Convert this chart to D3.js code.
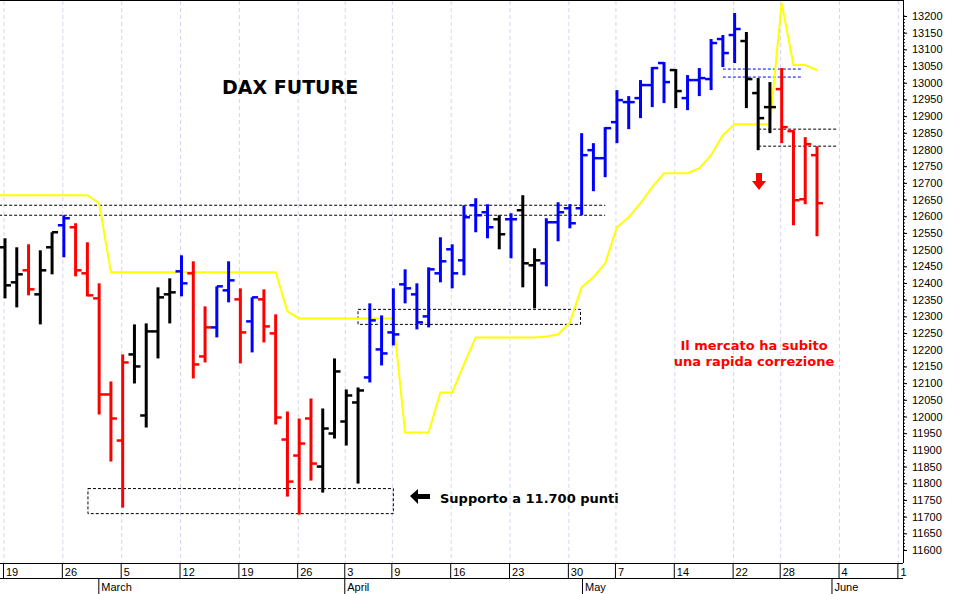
<!DOCTYPE html>
<html><head><meta charset="utf-8">
<script src="https://cdn.jsdelivr.net/npm/d3@7"></script>
<style>body{margin:0;background:#fff}svg{display:block}</style>
</head><body>
<svg id="c" width="954" height="594"></svg>
<script>
// OHLC bars: [open, high, low, close, colour code]
const opens  = [12507,12402,12438,12366,12507,12573,12567,12429,12354,12066,11928,12186,12003,12255,12366,12435,12429,12180,12267,12378,12351,12285,12351,12249,11931,11883,11994,11850,11949,11985,12042,12117,12201,12252,12396,12366,12300,12429,12501,12468,12633,12612,12591,12591,12618,12453,12459,12582,12624,12624,12798,12774,12882,12942,12954,12993,13059,13038,12954,13008,13011,13131,13143,13125,12969,12927,12981,12855,12651,12783];
const highs  = [12534,12507,12516,12498,12552,12603,12579,12522,12399,12105,12186,12276,12279,12387,12414,12483,12465,12330,12390,12465,12384,12357,12381,12306,12015,11994,12054,12024,12174,12081,12087,12339,12303,12384,12441,12399,12447,12537,12516,12633,12654,12636,12603,12609,12663,12504,12594,12642,12636,12849,12819,12867,12978,12960,13008,13047,13062,13041,13023,13044,13131,13143,13209,13152,13014,13002,13044,12858,12837,12810];
const lows   = [12354,12327,12363,12276,12426,12477,12420,12360,12006,11865,11727,12099,11967,12174,12279,12360,12114,12162,12237,12342,12159,12192,12222,11976,11760,11706,11808,11772,11934,11913,11799,12102,12153,12213,12339,12261,12267,12402,12384,12423,12552,12534,12501,12474,12387,12324,12390,12525,12564,12603,12675,12717,12819,12861,12894,12927,12939,12924,12918,12960,12978,13047,13059,12924,12798,12849,12819,12573,12636,12540];
const closes = [12393,12426,12381,12438,12552,12594,12438,12363,12066,11994,12162,12150,12255,12357,12372,12399,12156,12267,12390,12408,12252,12357,12270,11997,11805,11919,11859,11964,12135,12063,12078,12288,12189,12246,12384,12282,12441,12465,12429,12597,12603,12567,12546,12591,12459,12468,12582,12612,12579,12783,12774,12864,12948,12942,12993,13044,13002,12975,13008,13014,13119,13089,13161,13011,12894,12927,12867,12648,12816,12639];
const colours= "kkrkkbrrrrrkkkkbrrbbrbrrrrrkkkkbbbbbbbbbbbkbkkbbbbbbbbbbbkbbbbbkkkrrrr";
// yellow line, one value per bar
const yellow = [12663,12663,12663,12663,12663,12663,12663,12663,12639,12432,12432,12432,12432,12432,12432,12432,12432,12432,12432,12432,12432,12432,12432,12432,12315,12294,12294,12294,12294,12294,12294,12294,12294,12294,11952,11952,11952,12072,12072,12156,12237,12237,12237,12237,12237,12237,12240,12246,12282,12387,12417,12459,12567,12597,12639,12687,12729,12729,12729,12744,12783,12843,12876,12876,12876,12876,13239,13053,13053,13038];
// day ticks: [bar index, label]
const dayTicks = [[0,"19"],[5,"26"],[10,"5"],[15,"12"],[20,"19"],[25,"26"],[29,"3"],[33,"9"],[38,"16"],[43,"23"],[48,"30"],[52,"7"],[57,"14"],[62,"22"],[66,"28"],[71,"4"],[76,"1"]];
const monthTicks = [[8.1,"March"],[29,"April"],[49.2,"May"],[70.4,"June"]];
const priceTicks = d3.range(11600,13201,50);
// dashed reference lines: [fromIndex, toIndex, price, colour]
const refLines = [[-0.5,51,12633,"#000"],[-0.5,51,12603,"#000"],[61,67.8,13041,"#00f"],[61,67.8,13017,"#00f"],[64,70.8,12861,"#000"],[64,70.8,12810,"#000"]];
// dashed boxes: [fromIndex, toIndex, lowPrice, highPrice]
const boxes = [[30,48.9,12276,12321],[7.05,33,11709,11784]];

const svg = d3.select("#c");
const x = d3.scaleLinear().domain([0,69]).range([5,817]);
const y = d3.scaleLinear().domain([11600,13200]).range([550,16]);
const R = 903, B = 563;
const col = {k:"#000",r:"#ff0000",b:"#0000ff"};

// grid
svg.append("g").selectAll("line").data(dayTicks).join("line")
  .attr("x1",d=>x(d[0])-1).attr("x2",d=>x(d[0])-1).attr("y1",1).attr("y2",B)
  .attr("stroke","#d4d4f0").attr("stroke-dasharray","4,3");
// frame
svg.append("line").attr("x1",0).attr("x2",R).attr("y1",0.5).attr("y2",0.5).attr("stroke","#000");
svg.append("line").attr("x1",R+0.5).attr("x2",R+0.5).attr("y1",0).attr("y2",B).attr("stroke","#000");
svg.append("line").attr("x1",0).attr("x2",R).attr("y1",B+0.5).attr("y2",B+0.5).attr("stroke","#000");
svg.append("line").attr("x1",0).attr("x2",R).attr("y1",578.5).attr("y2",578.5).attr("stroke","#000");

// y axis
const ya = svg.append("g").attr("transform",`translate(${R},0)`)
  .call(d3.axisRight(y).tickValues(priceTicks).tickSize(4).tickFormat(d3.format("d")));
ya.select(".domain").remove();
ya.selectAll("text").attr("font-family","Liberation Sans, Arial").attr("font-size",11).attr("x",9);
svg.append("g").selectAll("line").data(d3.range(11600,13201,10)).join("line")
  .attr("x1",R).attr("x2",R+2).attr("y1",d=>y(d)).attr("y2",d=>y(d)).attr("stroke","#000");

// x axis
const xa = svg.append("g");
xa.selectAll("line").data(dayTicks).join("line")
  .attr("x1",d=>x(d[0])-1.5).attr("x2",d=>x(d[0])-1.5).attr("y1",B).attr("y2",578).attr("stroke","#000");
xa.selectAll("text").data(dayTicks).join("text")
  .attr("x",d=>x(d[0])+1).attr("y",576).text(d=>d[1])
  .attr("font-family","Liberation Sans, Arial").attr("font-size",11);
const ma = svg.append("g");
ma.selectAll("line").data(monthTicks).join("line")
  .attr("x1",d=>x(d[0])-1.5).attr("x2",d=>x(d[0])-1.5).attr("y1",578).attr("y2",594).attr("stroke","#000");
ma.selectAll("text").data(monthTicks).join("text")
  .attr("x",d=>x(d[0])+1).attr("y",591).text(d=>d[1])
  .attr("font-family","Liberation Sans, Arial").attr("font-size",11);

// reference lines & boxes
svg.append("g").selectAll("line").data(refLines).join("line")
  .attr("x1",d=>x(d[0])).attr("x2",d=>x(d[1])).attr("y1",d=>y(d[2])).attr("y2",d=>y(d[2]))
  .attr("stroke",d=>d[3]).attr("stroke-dasharray","3,2");
svg.append("g").selectAll("rect").data(boxes).join("rect")
  .attr("x",d=>x(d[0])).attr("width",d=>x(d[1])-x(d[0]))
  .attr("y",d=>y(d[3])).attr("height",d=>y(d[2])-y(d[3]))
  .attr("fill","none").attr("stroke","#000").attr("stroke-dasharray","3,2");

// yellow line (extends to the left edge)
const ypts = [[-0.45,yellow[0]]].concat(yellow.map((v,i)=>[i,v]));
svg.append("path").datum(ypts)
  .attr("d",d3.line().x(d=>x(d[0])).y(d=>y(d[1])))
  .attr("fill","none").attr("stroke","#ffff00").attr("stroke-width",2);

// bars
const idx = d3.range(opens.length);
const g = svg.append("g");
idx.forEach(i=>{
  const c = col[colours[i]], cx = x(i);
  g.append("line").attr("x1",cx).attr("x2",cx).attr("y1",y(highs[i])).attr("y2",y(lows[i]))
    .attr("stroke",c).attr("stroke-width",3);
  g.append("line").attr("x1",cx-6).attr("x2",cx).attr("y1",y(opens[i])).attr("y2",y(opens[i]))
    .attr("stroke",c).attr("stroke-width",2.5);
  g.append("line").attr("x1",cx).attr("x2",cx+6).attr("y1",y(closes[i])).attr("y2",y(closes[i]))
    .attr("stroke",c).attr("stroke-width",2.5);
});

// annotations
svg.append("text").attr("x",222).attr("y",94).text("DAX FUTURE")
  .attr("font-family","DejaVu Sans, Verdana").attr("font-weight","bold").attr("font-size",19);
svg.append("text").attr("x",440).attr("y",503).text("Supporto a 11.700 punti")
  .attr("font-family","DejaVu Sans, Verdana").attr("font-weight","bold").attr("font-size",13);
svg.append("path").attr("d","M410,496 L418,489 L418,494 L430,494 L430,499 L418,499 L418,504 Z").attr("fill","#000");
svg.append("path").attr("d","M756,173 L762,173 L762,181 L766,181 L759,190 L752,181 L756,181 Z").attr("fill","#ff0000");
svg.append("text").attr("x",754).attr("y",350).attr("text-anchor","middle").text("Il mercato ha subito")
  .attr("font-family","DejaVu Sans, Verdana").attr("font-weight","bold").attr("font-size",13).attr("fill","#ff0000");
svg.append("text").attr("x",754).attr("y",366).attr("text-anchor","middle").text("una rapida correzione")
  .attr("font-family","DejaVu Sans, Verdana").attr("font-weight","bold").attr("font-size",13).attr("fill","#ff0000");
</script>
</body></html>
